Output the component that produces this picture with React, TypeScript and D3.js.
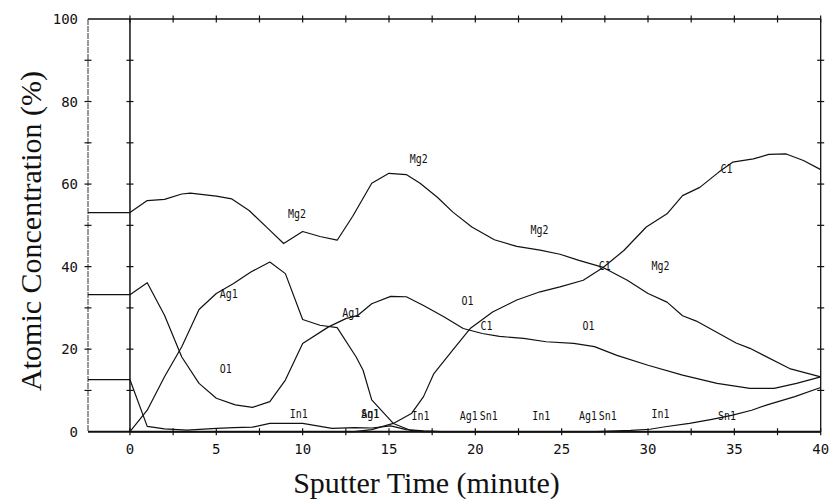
import React from 'react';
import * as d3 from 'd3';

// series: [sputter time (min), atomic concentration (%)]
const mg2: [number, number][] = [
  [-2.43, 53.1], [0, 53.1], [1, 56.0], [2, 56.3], [3, 57.6], [3.5, 57.8], [5, 57.1], [5.9, 56.4],
  [6.9, 53.6], [8, 49.2], [8.9, 45.6], [10, 48.5], [11, 47.3], [12, 46.4], [12.9, 52.2], [14, 60.2],
  [15, 62.6], [16, 62.3], [16.8, 60.2], [17.8, 56.8], [18.7, 53.2], [19.8, 49.6], [21.1, 46.5],
  [22.4, 44.9], [23.75, 44.0], [24.9, 43.0], [26, 41.5], [27.4, 39.8], [28.8, 36.7], [30, 33.5],
  [31.1, 31.4], [32, 28.1], [32.8, 26.8], [35.1, 21.5], [35.9, 20.2], [38.2, 15.3], [40, 13.3],
];

const o1: [number, number][] = [
  [-2.43, 33.2], [0, 33.2], [1, 36.1], [2, 28.2], [3, 18.1], [4, 11.7], [5, 8.1], [6.1, 6.5],
  [7.1, 5.9], [8.1, 7.3], [9, 12.5], [10, 21.4], [11.5, 25.4], [12.5, 27.4], [13.2, 28.2],
  [14, 31.0], [15.1, 32.8], [16, 32.7], [17, 30.6], [18.2, 27.8], [19.3, 25.0], [20.4, 23.8],
  [21.4, 23.1], [22.8, 22.6], [24.1, 21.8], [25.7, 21.4], [26.9, 20.6], [28.2, 18.5], [30, 16.1],
  [32, 13.7], [34, 11.7], [35.9, 10.5], [37.3, 10.5], [38.6, 11.7], [40, 13.3],
];

const ag1: [number, number][] = [
  [0, 0], [1, 5.2], [2, 13.3], [3, 20.6], [4, 29.6], [5, 33.5], [6, 35.9], [7, 38.7], [8.1, 41.1],
  [9, 38.3], [10, 27.2], [11, 25.8], [12, 25.2], [13.1, 18.1], [13.5, 14.9], [14, 7.7], [15.25, 2.0],
  [16.2, 0.4], [17, 0], [40, 0],
];

const c1: [number, number][] = [
  [0, 0], [13, 0], [14, 0.5], [15.25, 2.0], [16.3, 4.4], [17, 8.5], [17.6, 14.1], [18.7, 19.8],
  [19.7, 25.0], [21, 29.0], [22.4, 31.9], [23.75, 33.9], [24.9, 35.1], [26.25, 36.7], [27.4, 39.8],
  [28.6, 43.9], [29.9, 49.6], [31.1, 52.8], [32, 57.2], [33, 59.2], [34.1, 62.9], [34.9, 65.3],
  [36.1, 66.1], [37, 67.2], [38, 67.3], [39, 65.7], [40, 63.5],
];

const in1: [number, number][] = [
  [-2.43, 12.6], [0, 12.6], [1, 1.3], [2, 0.7], [3.3, 0.4], [5, 0.8], [6, 1.0], [7.1, 1.1],
  [8.1, 2.0], [10, 2.0], [11.7, 0.8], [13, 1.0], [14, 0.9], [15.1, 1.4], [16, 0.5], [17, 0.2],
  [18, 0], [40, 0],
];

const sn1: [number, number][] = [
  [0, 0], [27, 0], [29, 0.3], [30.1, 0.6], [31, 1.2], [32.4, 2.0], [33.7, 3.0], [34.9, 4.0],
  [36, 5.2], [36.9, 6.5], [38.5, 8.5], [40, 10.7],
];

const xTicks = [0, 5, 10, 15, 20, 25, 30, 35, 40];
const yTicks = [0, 20, 40, 60, 80, 100];
const xMinor = d3.range(0, 40.01, 2.5);
const yMinor = d3.range(10, 100, 10);

// curve labels as printed by the instrument: [text, time, concentration]
const curveLabels: [string, number, number][] = [
  ['Mg2', 9.15, 51.7], ['Mg2', 16.2, 65.2], ['Mg2', 23.2, 48.0], ['C1', 34.2, 62.6],
  ['C1', 27.15, 39.1], ['Mg2', 30.2, 39.1], ['O1', 19.2, 30.6], ['C1', 20.3, 24.6],
  ['O1', 26.2, 24.6], ['Ag1', 5.2, 32.3], ['Ag1', 12.3, 27.7], ['O1', 5.2, 14.2],
  ['In1', 9.25, 3.3], ['Sn1', 13.4, 3.3], ['Ag1', 13.4, 3.3], ['In1', 16.3, 2.8],
  ['Ag1', 19.1, 2.8], ['Sn1', 20.25, 2.8], ['In1', 23.3, 2.8], ['Ag1', 26.0, 2.8],
  ['Sn1', 27.15, 2.8], ['In1', 30.2, 3.3], ['Sn1', 34.05, 2.8],
];

const series = [mg2, o1, ag1, c1, in1, sn1];

export default function App() {
  const width = 832;
  const height = 499;
  const left = 88, right = 820.7, top = 19, bottom = 431.7;

  const x = d3.scaleLinear().domain([-2.43, 40]).range([left, right]);
  const y = d3.scaleLinear().domain([0, 100]).range([bottom, top]);

  const line = d3.line<[number, number]>()
    .x(d => x(d[0]))
    .y(d => y(d[1]));

  const ink = '#111';
  const mono = '"DejaVu Sans Mono", monospace';
  const tk = 3.5;

  return (
    <svg width={width} height={height} style={{ position: 'absolute', left: 0, top: 0, background: '#fff' }}>
      {/* frame */}
      <line x1={left} x2={right} y1={top} y2={top} stroke={ink} strokeWidth={1.3} />
      <line x1={right} x2={right} y1={top} y2={bottom} stroke={ink} strokeWidth={1.3} />
      <line x1={left} x2={right} y1={bottom} y2={bottom} stroke={ink} strokeWidth={2} />
      <line x1={left} x2={left} y1={top} y2={bottom} stroke="#333" strokeWidth={1} strokeDasharray="6,1" />
      <line x1={x(0)} x2={x(0)} y1={top} y2={bottom} stroke={ink} strokeWidth={1.5} />

      {/* crossing tick marks */}
      {xMinor.map(t => (
        <g key={'xt' + t}>
          <line x1={x(t)} x2={x(t)} y1={top - tk} y2={top + tk} stroke={ink} strokeWidth={1.2} />
          <line x1={x(t)} x2={x(t)} y1={bottom - tk} y2={bottom + tk} stroke={ink} strokeWidth={1.2} />
        </g>
      ))}
      {yMinor.map(v => (
        <g key={'yt' + v}>
          <line x1={left - tk} x2={left + tk} y1={y(v)} y2={y(v)} stroke={ink} strokeWidth={1.2} />
          <line x1={x(0) - tk} x2={x(0) + tk} y1={y(v)} y2={y(v)} stroke={ink} strokeWidth={1.2} />
          <line x1={right - tk} x2={right + tk} y1={y(v)} y2={y(v)} stroke={ink} strokeWidth={1.2} />
        </g>
      ))}

      {/* tick labels */}
      {yTicks.map(v => (
        <text key={'yl' + v} x={left - 10} y={y(v)} dy="0.36em" textAnchor="end"
          fontFamily={mono} fontSize={14} fill={ink}>{v}</text>
      ))}
      {xTicks.map(t => (
        <text key={'xl' + t} x={x(t)} y={454} textAnchor="middle"
          fontFamily={mono} fontSize={14} fill={ink}>{t}</text>
      ))}

      {/* profiles */}
      {series.map((s, i) => (
        <path key={'s' + i} d={line(s) || ''} fill="none" stroke={ink} strokeWidth={1.2} strokeLinejoin="round" />
      ))}

      {/* curve labels */}
      {curveLabels.map(([txt, t, v], i) => (
        <text key={'cl' + i} x={x(t)} y={y(v)} fontFamily={mono} fontSize={12}
          textLength={txt.length * 6} lengthAdjust="spacingAndGlyphs" fill={ink}>{txt}</text>
      ))}

      {/* axis titles */}
      <text x={426.5} y={493} textAnchor="middle" fontFamily='"Liberation Serif", "Times New Roman", serif'
        fontSize={30} fill={ink}>Sputter Time (minute)</text>
      <text transform="translate(41,231) rotate(-90)" textAnchor="middle"
        fontFamily='"Liberation Serif", "Times New Roman", serif' fontSize={30} fill={ink}>
        Atomic Concentration (%)
      </text>
    </svg>
  );
}
